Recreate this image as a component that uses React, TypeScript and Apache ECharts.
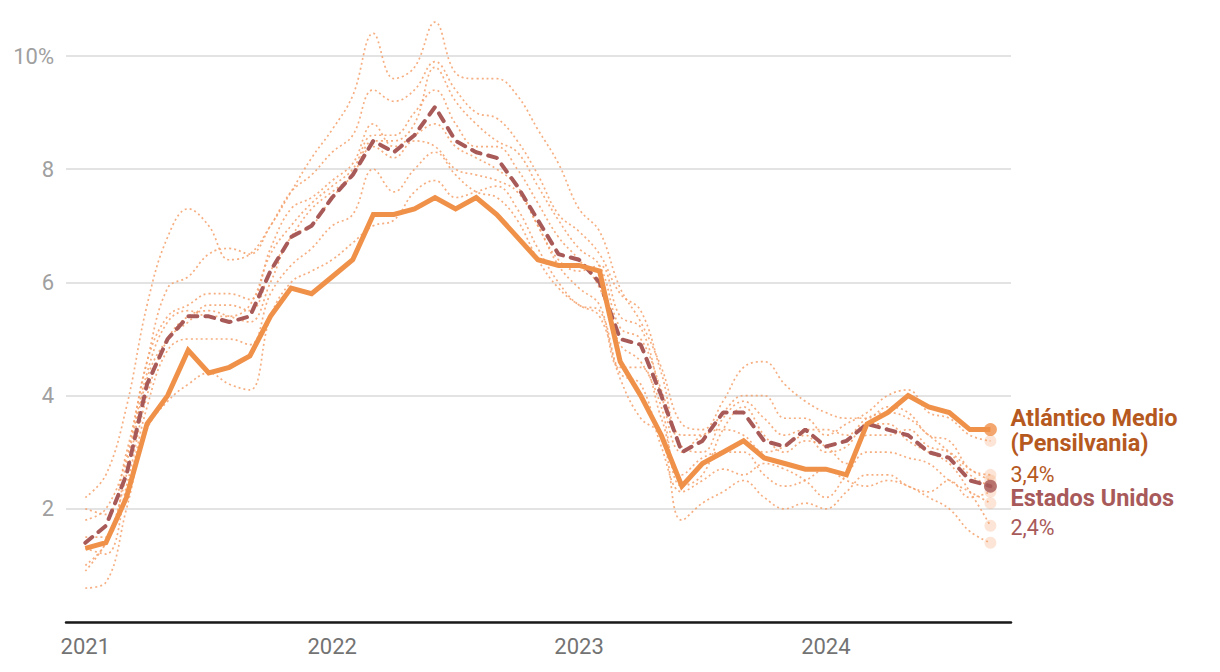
import React, { useEffect, useRef } from "react";
import * as echarts from "echarts";

// Months from Jan 2021 (index 0) to Sep 2024 (index 44)
const yearTicks = [2021, 2022, 2023, 2024];

const midAtlantic = [
  1.3, 1.4, 2.2, 3.5, 4.0, 4.8, 4.4, 4.5, 4.7, 5.4, 5.9, 5.8,
  6.1, 6.4, 7.2, 7.2, 7.3, 7.5, 7.3, 7.5, 7.2, 6.8, 6.4, 6.3,
  6.3, 6.2, 4.6, 4.0, 3.3, 2.4, 2.8, 3.0, 3.2, 2.9, 2.8, 2.7,
  2.7, 2.6, 3.5, 3.7, 4.0, 3.8, 3.7, 3.4, 3.4,
];

const unitedStates = [
  1.4, 1.7, 2.6, 4.2, 5.0, 5.4, 5.4, 5.3, 5.4, 6.2, 6.8, 7.0,
  7.5, 7.9, 8.5, 8.3, 8.6, 9.1, 8.5, 8.3, 8.2, 7.7, 7.1, 6.5,
  6.4, 6.0, 5.0, 4.9, 4.0, 3.0, 3.2, 3.7, 3.7, 3.2, 3.1, 3.4,
  3.1, 3.2, 3.5, 3.4, 3.3, 3.0, 2.9, 2.5, 2.4,
];

const mountain = [
  2.2, 2.6, 3.8, 5.6, 6.8, 7.3, 7.0, 6.4, 6.5, 7.0, 7.6, 8.2,
  8.7, 9.3, 10.4, 9.6, 9.8, 10.6, 9.7, 9.6, 9.6, 9.3, 8.7, 8.1,
  7.3, 6.9, 5.9, 5.3, 4.5, 3.5, 3.4, 3.9, 4.5, 4.6, 4.2, 3.9,
  3.7, 3.6, 3.6, 3.8, 3.7, 3.3, 3.2, 2.7, 2.6,
];
const southAtlantic = [
  2.0, 1.9, 3.0, 4.6, 5.9, 6.1, 6.5, 6.6, 6.5, 7.0, 7.6, 7.9,
  8.3, 8.6, 9.4, 9.2, 9.4, 9.9, 9.4, 9.0, 8.9, 8.5, 7.9, 7.2,
  6.9, 6.5, 5.8, 5.5, 4.4, 3.3, 3.3, 3.7, 4.0, 4.0, 3.6, 3.6,
  3.3, 3.5, 3.7, 4.0, 4.1, 3.7, 3.6, 3.3, 3.2,
];
const newEngland = [
  0.6, 0.7, 2.0, 3.4, 3.9, 4.2, 4.4, 4.2, 4.1, 5.4, 6.0, 6.2,
  6.4, 6.7, 7.0, 7.1, 7.6, 7.8, 7.5, 7.6, 7.7, 7.3, 6.6, 6.0,
  5.6, 5.5, 4.4, 4.2, 3.1, 2.3, 2.5, 2.7, 2.6, 2.8, 2.7, 2.5,
  2.2, 2.6, 3.0, 3.0, 2.9, 2.8, 2.5, 2.3, 2.1,
];
const eastSouthCentral = [
  1.0, 1.4, 2.6, 4.3, 5.0, 5.3, 5.6, 5.6, 5.5, 6.2, 6.8, 7.3,
  7.6, 7.9, 8.5, 8.5, 8.8, 9.8, 9.2, 8.8, 8.5, 8.3, 7.7, 7.1,
  6.6, 6.3, 5.2, 5.0, 4.1, 3.1, 3.0, 3.6, 3.9, 3.6, 3.3, 3.4,
  3.4, 3.3, 3.6, 3.7, 3.6, 3.3, 3.0, 2.6, 2.4,
];
const westSouthCentral = [
  1.8, 2.0, 2.9, 4.6, 5.4, 5.6, 5.8, 5.8, 5.7, 6.6, 7.3, 7.5,
  7.8, 8.1, 8.8, 8.4, 8.6, 8.8, 8.4, 8.2, 8.0, 7.7, 7.0, 6.4,
  6.2, 6.3, 5.4, 5.2, 4.0, 3.0, 3.3, 3.4, 3.3, 3.0, 3.1, 3.3,
  3.0, 3.1, 3.5, 3.5, 3.2, 3.0, 2.8, 2.3, 1.7,
];
const pacific = [
  1.3, 1.2, 2.4, 4.0, 5.0, 5.4, 5.5, 5.4, 5.3, 6.0, 6.8, 7.0,
  7.5, 7.9, 8.4, 8.2, 8.5, 8.4, 8.0, 7.9, 7.8, 7.6, 7.0, 6.3,
  5.9, 5.6, 4.5, 4.5, 3.6, 2.6, 2.9, 3.0, 3.0, 2.6, 2.4, 2.5,
  2.7, 2.5, 2.4, 2.5, 2.4, 2.2, 2.0, 1.6, 1.4,
];
const eastNorthCentral = [
  0.9, 1.4, 2.3, 3.8, 4.8, 5.0, 5.0, 5.0, 4.9, 5.8, 6.3, 6.6,
  7.0, 7.2, 8.0, 7.6, 8.0, 8.3, 7.9, 7.6, 7.5, 7.1, 6.4, 5.9,
  5.6, 5.4, 4.3, 3.6, 3.3, 1.8, 2.1, 2.3, 2.5, 2.2, 2.0, 2.1,
  2.0, 2.3, 2.6, 2.6, 2.4, 2.3, 2.5, 2.2, 2.3,
];
const westNorthCentral = [
  1.5, 1.5, 2.8, 4.4, 5.3, 5.5, 5.4, 5.4, 5.6, 6.5, 7.0, 7.4,
  7.7, 8.0, 8.6, 8.6, 9.0, 9.4, 8.8, 8.4, 8.4, 8.0, 7.4, 6.8,
  6.4, 5.9, 4.9, 4.6, 3.8, 2.4, 2.6, 3.4, 3.8, 3.3, 3.0, 3.2,
  3.1, 2.8, 3.3, 3.3, 3.4, 3.1, 3.0, 2.7, 2.5,
];

const otherRegions = [
  mountain, southAtlantic, newEngland, eastSouthCentral,
  westSouthCentral, pacific, eastNorthCentral, westNorthCentral,
];

const labels = {
  midAtlanticName: ["Atlántico Medio", "(Pensilvania)"],
  midAtlanticValue: "3,4%",
  usName: "Estados Unidos",
  usValue: "2,4%",
};

const toPairs = (arr: number[]) => arr.map((v, i) => [i, v]);

export default function App() {
  const ref = useRef<HTMLDivElement>(null);

  useEffect(() => {
    if (!ref.current) return;
    const chart = echarts.init(ref.current, undefined, { renderer: "svg" });
    const font = "Roboto";
    const last = midAtlantic.length - 1;

    const bgSeries = otherRegions.map((arr) => ({
      type: "line",
      data: toPairs(arr),
      smooth: 0.4,
      symbol: "none",
      clip: false,
      silent: true,
      z: 1,
      lineStyle: { color: "#F4A06A", width: 1.7, type: [2, 3], opacity: 0.85 },
    }));

    const option = {
      animation: false,
      backgroundColor: "#ffffff",
      textStyle: { fontFamily: font },
      grid: { left: 66, right: 209, top: 56, bottom: 50, containLabel: false },
      xAxis: {
        type: "value",
        min: -0.94,
        max: 45,
        axisLine: { show: true, lineStyle: { color: "#1a1a1a", width: 2.5 } },
        axisTick: { show: false },
        splitLine: { show: false },
        axisLabel: {
          customValues: yearTicks.map((_, k) => k * 12),
          formatter: (v: number) => String(yearTicks[0] + Math.round(v / 12)),
          color: "#737373",
          fontSize: 22,
          fontFamily: font,
          margin: 13,
        },
      },
      yAxis: {
        type: "value",
        min: 0,
        max: 10,
        interval: 2,
        axisLine: { show: false },
        axisTick: { show: false },
        splitLine: { show: true, lineStyle: { color: "#e3e3e3", width: 2 } },
        axisLabel: {
          formatter: (v: number) => (v === 0 ? "" : v === 10 ? "10%" : String(v)),
          color: "#a0a0a0",
          fontSize: 22,
          fontFamily: font,
          margin: 12,
        },
      },
      series: [
        ...bgSeries,
        {
          type: "scatter",
          data: otherRegions.map((arr) => [last, arr[last]]),
          symbolSize: 12,
          silent: true,
          z: 2,
          itemStyle: { color: "#F4A06A", opacity: 0.28 },
        },
        {
          type: "line",
          data: toPairs(unitedStates),
          symbol: "none",
          clip: false,
          z: 3,
          lineStyle: { color: "#A85A58", width: 4, type: [9, 8], cap: "round" },
          endLabel: {
            show: true,
            distance: 20,
            offset: [0, 29],
            formatter: () => `{b|${labels.usName}}\n{v|${labels.usValue}}`,
            rich: {
              b: { fontSize: 23.5, fontWeight: "bold", color: "#A85A5A", fontFamily: font, lineHeight: 24 },
              v: { fontSize: 21.5, color: "#A85A5A", fontFamily: font, lineHeight: 34 },
            },
          },
        },
        {
          type: "scatter",
          data: [[last, unitedStates[last]]],
          symbolSize: 13,
          z: 5,
          itemStyle: { color: "#A85A5A" },
        },
        {
          type: "line",
          data: toPairs(midAtlantic),
          symbol: "none",
          clip: false,
          z: 4,
          lineStyle: { color: "#F0914A", width: 5, join: "miter" },
          endLabel: {
            show: true,
            distance: 20,
            offset: [0, 19],
            formatter: () =>
              `{b|${labels.midAtlanticName[0]}}\n{b|${labels.midAtlanticName[1]}}\n{v|${labels.midAtlanticValue}}`,
            rich: {
              b: { fontSize: 23.5, fontWeight: "bold", color: "#B5591F", fontFamily: font, lineHeight: 25.5 },
              v: { fontSize: 21.5, color: "#B5591F", fontFamily: font, lineHeight: 36 },
            },
          },
        },
        {
          type: "scatter",
          data: [[last, midAtlantic[last]]],
          symbolSize: 13,
          z: 6,
          itemStyle: { color: "#F0914A" },
        },
      ],
    };

    chart.setOption(option as any);
    return () => chart.dispose();
  }, []);

  return (
    <div
      ref={ref}
      style={{ position: "absolute", left: 0, top: 0, width: 1220, height: 672, background: "#fff" }}
    />
  );
}
